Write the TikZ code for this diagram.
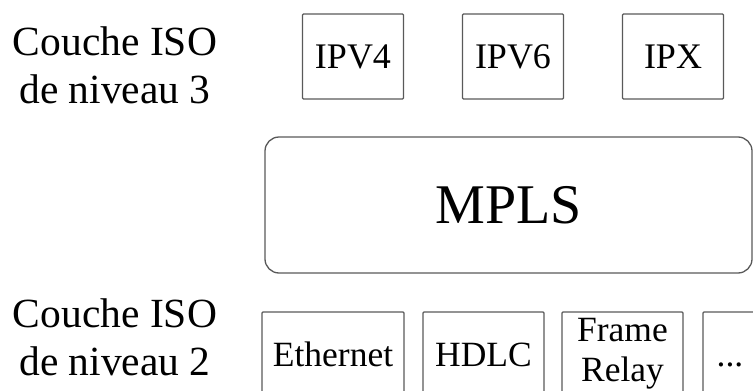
\documentclass[tikz,border=0pt]{standalone}
\usepackage{fontspec}
\setmainfont{Liberation Serif}
\begin{document}
\begin{tikzpicture}[x=1pt, y=-1pt,
    iso/.style={align=center, inner sep=0pt, font=\fontsize{41.5}{48}\selectfont},
    proto/.style={draw=black!65, line width=1.3pt, rounded corners=1pt, inner sep=0pt,
        font=\fontsize{35.5}{40}\selectfont},
    single/.style={text height=24pt, text depth=0pt}]
    \clip (0, 0) rectangle (753, 391);
    % Couche 3
    \node[iso] (L3) at (115, 65) {Couche ISO\\de niveau 3};
    \node[proto, single, minimum width=101pt, minimum height=85pt, font=\fontsize{36}{40}\selectfont] (ipv4) at (353, 56.5) {IPV4};
    \node[proto, single, minimum width=101pt, minimum height=85pt, font=\fontsize{36}{40}\selectfont] (ipv6) at (513, 56.5) {IPV6};
    \node[proto, single, minimum width=101pt, minimum height=85pt, font=\fontsize{36}{40}\selectfont] (ipx) at (673, 56.5) {IPX};
    % MPLS
    \node[proto, rounded corners=14pt, minimum width=487pt, minimum height=136pt,
        font=\fontsize{56}{60}\selectfont] (mpls) at (508.5, 205) {MPLS};
    % Couche 2
    \node[iso] (L2) at (115, 337) {Couche ISO\\de niveau 2};
    \node[proto, single, minimum width=142pt, minimum height=84pt] (eth) at (333, 354) {Ethernet};
    \node[proto, single, minimum width=121pt, minimum height=84pt] (hdlc) at (483.5, 354) {HDLC};
    \node[proto, align=center, minimum width=121pt, minimum height=84pt] (fr) at (622.5, 354) {Frame\\Relay};
    \node[proto, single, minimum width=54pt, minimum height=84pt] (more) at (730, 354) {...};
\end{tikzpicture}
\end{document}
